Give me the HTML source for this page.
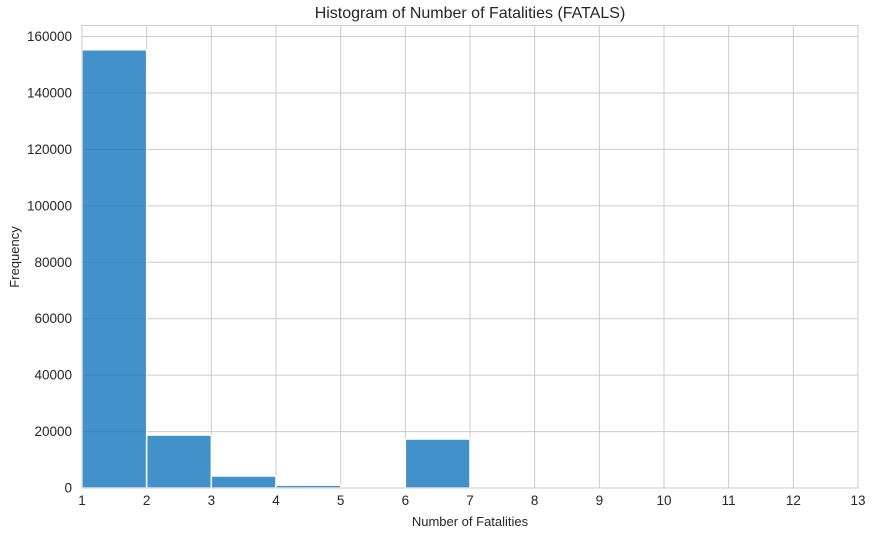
<!DOCTYPE html>
<html><head><meta charset="utf-8"><style>
body{margin:0;background:#fff;}
text{font-family:"Liberation Sans",sans-serif;fill:#262626;}
</style></head><body>
<svg id="chart" width="872" height="531" xmlns="http://www.w3.org/2000/svg">
<text x="470" y="18" text-anchor="middle" font-size="16">Histogram of Number of Fatalities (FATALS)</text>
<text x="470" y="526" text-anchor="middle" font-size="13">Number of Fatalities</text>
<text transform="translate(19,257) rotate(-90)" text-anchor="middle" font-size="13">Frequency</text>
<g id="grid"></g><g id="bars"></g><g id="overgrid"></g><g id="ticks"></g>
<rect x="82" y="25.5" width="776" height="462.5" fill="none" stroke="#cccccc" stroke-width="1"/>
</svg>
<script>
const binEdges=[1,2,3,4,5,6,7,8,9,10,11,12,13];
const counts=[155300,18760,4250,1000,0,17350,0,0,0,0,0,0];
const xTicks=[1,2,3,4,5,6,7,8,9,10,11,12,13];
const yTicks=[0,20000,40000,60000,80000,100000,120000,140000,160000];
const NS="http://www.w3.org/2000/svg";
const L=82,R=858,B=488,T=36.5;
const xs=v=>L+(v-1)/12*(R-L);
const ys=v=>B-v/160000*(B-T);
function mk(tag,attrs,parent){const e=document.createElementNS(NS,tag);for(const k in attrs)e.setAttribute(k,attrs[k]);document.getElementById(parent).appendChild(e);return e;}
xTicks.forEach(t=>{
 const l=mk('line',{x1:xs(t),x2:xs(t),y1:25.5,y2:B,stroke:'#cccccc'},'grid');
 
 
 const tx=mk('text',{x:xs(t),y:B+17,'text-anchor':'middle','font-size':13.5},'ticks');
 tx.textContent=t;
 
 
});
yTicks.forEach(t=>{
 const l=mk('line',{x1:L,x2:R,y1:ys(t),y2:ys(t),stroke:'#cccccc'},'grid');
 
 
 const tx=mk('text',{x:L-10,y:ys(t)+4.5,'text-anchor':'end','font-size':13.5},'ticks');
 tx.textContent=t;
 
 
});
counts.forEach((c,i)=>{
 if(c<=0)return;
 const x0=xs(binEdges[i]),x1=xs(binEdges[i+1]);
 const r=mk('rect',{x:x0,y:ys(c),width:x1-x0,height:B-ys(c),fill:'#4391ca',stroke:'#ffffff','stroke-width':1.5},'bars');
 
 
});
counts.forEach((c,i)=>{
 if(c<=0)return;
 const x0=xs(binEdges[i])+1,x1=xs(binEdges[i+1])-1;
 yTicks.forEach(t=>{
  if(t>0&&t<c){
   const l=mk('line',{x1:x0,x2:x1,y1:ys(t),y2:ys(t),stroke:'#2a6fa3','stroke-opacity':0.35},'overgrid');
   
   
  }
 });
});
</script>
</body></html>
